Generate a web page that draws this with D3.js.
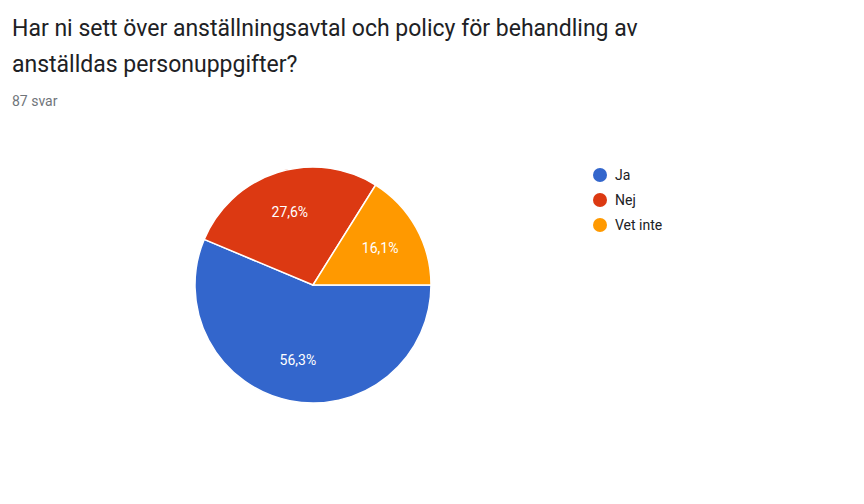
<!DOCTYPE html>
<html><head><meta charset="utf-8">
<script src="https://cdn.jsdelivr.net/npm/d3@7"></script>
<style>body{margin:0;background:#fff;font-family:Roboto,Arial,sans-serif}</style>
</head><body><svg id="c" width="864" height="504"></svg>
<script>
const categories = ["Ja","Nej","Vet inte"];
const counts = [49,24,14];
const colors = ["#3366cc","#dc3912","#ff9900"];
const title1 = "Har ni sett över anställningsavtal och policy för behandling av";
const title2 = "anställdas personuppgifter?";
const subtitle = "87 svar";

const svg = d3.select("#c");
svg.append("text").attr("x",12).attr("y",36).attr("font-size",23).attr("fill","#202124").text(title1);
svg.append("text").attr("x",12).attr("y",72).attr("font-size",23).attr("fill","#202124").text(title2);
svg.append("text").attr("x",12).attr("y",106).attr("font-size",14).attr("fill","#70757a").text(subtitle);

const total = d3.sum(counts);
const data = categories.map((c,i)=>({c,v:counts[i],col:colors[i]}));
const pie = d3.pie().value(d=>d.v).sort(null).startAngle(Math.PI/2).endAngle(Math.PI/2+2*Math.PI);
const r = 118;
const arc = d3.arc().innerRadius(0).outerRadius(r);
const lab = d3.arc().innerRadius(r*0.65).outerRadius(r*0.65);
const g = svg.append("g").attr("transform","translate(313,285)");
const arcs = pie(data);
g.selectAll("path").data(arcs).join("path").attr("d",arc).attr("fill",d=>d.data.col)
  .attr("stroke","#fff").attr("stroke-width",1.5);
g.selectAll("text").data(arcs).join("text")
  .attr("transform",d=>`translate(${lab.centroid(d)})`).attr("text-anchor","middle").attr("dy","0.35em")
  .attr("font-size",14).attr("fill","#fff")
  .text(d=>(d.data.v/total*100).toFixed(1).replace(".",",")+"%");

const lg = svg.append("g").attr("transform","translate(600,175)");
data.forEach((d,i)=>{
  const y=i*25;
  lg.append("circle").attr("cx",0).attr("cy",y).attr("r",7).attr("fill",d.col);
  lg.append("text").attr("x",15).attr("y",y).attr("dy","0.35em").attr("font-size",14).attr("fill","#202124").text(d.c);
});
</script></body></html>
